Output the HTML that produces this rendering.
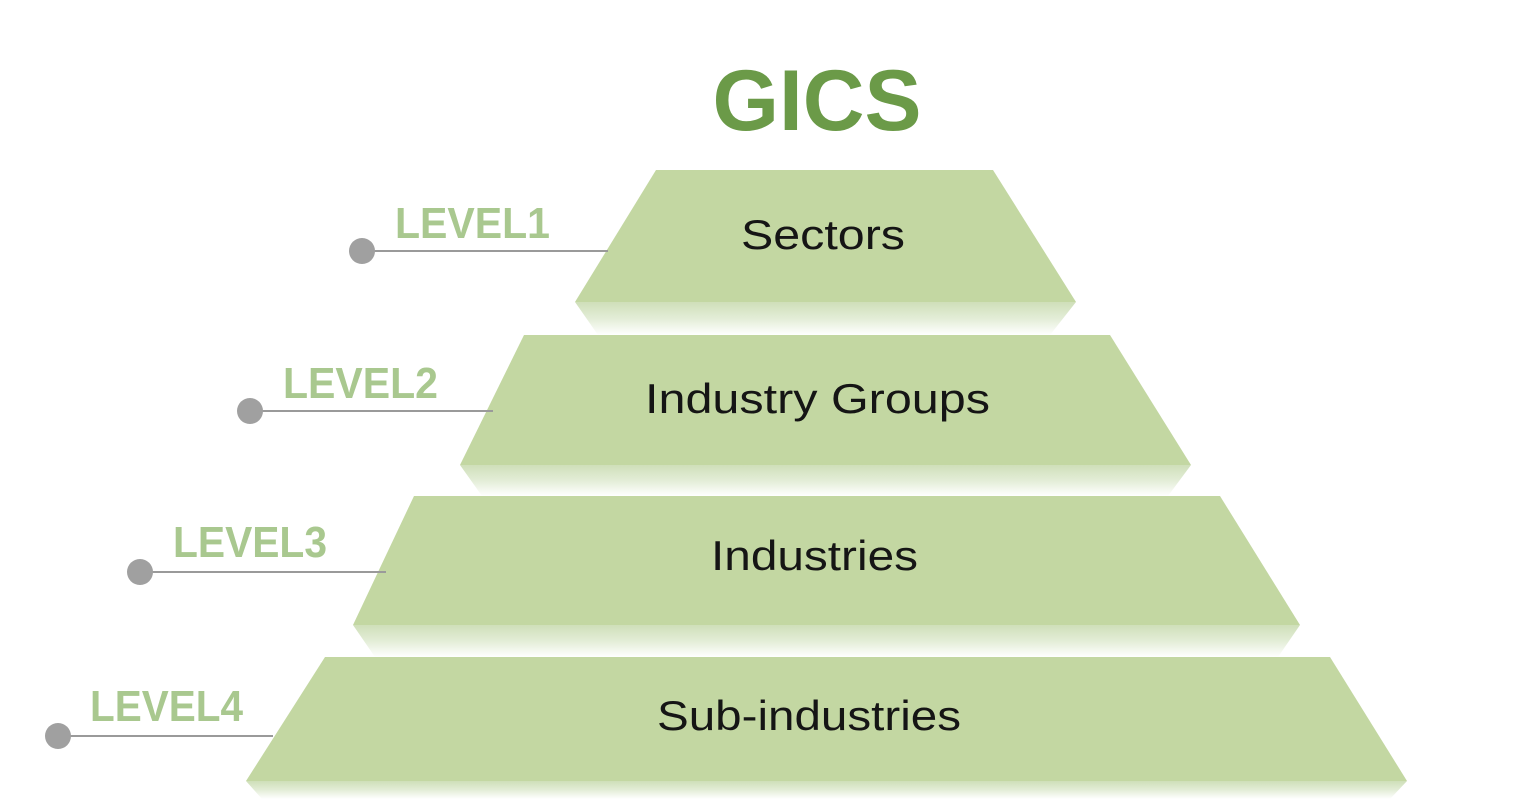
<!DOCTYPE html>
<html><head><meta charset="utf-8"><style>
html,body{margin:0;padding:0;background:#fff;width:1529px;height:799px;overflow:hidden}
svg{display:block}
</style></head><body>
<svg width="1529" height="799" viewBox="0 0 1529 799" xmlns="http://www.w3.org/2000/svg">
<defs>
<linearGradient id="r" x1="0" y1="0" x2="0" y2="1">
<stop offset="0" stop-color="#cfdfb9"/>
<stop offset="0.5" stop-color="#e3edd7"/>
<stop offset="1" stop-color="#ffffff"/>
</linearGradient>
</defs>
<text x="817" y="130" text-anchor="middle" font-family="Liberation Sans, sans-serif" font-weight="bold" font-size="86" fill="#6b9a48" textLength="209" lengthAdjust="spacingAndGlyphs">GICS</text>

<polygon points="575,302 1076,302 1050,335 598,335" fill="url(#r)"/>
<polygon points="460,465 1191,465 1168,496 482,496" fill="url(#r)"/>
<polygon points="353,625 1300,625 1278,657 375,657" fill="url(#r)"/>
<polygon points="246,781 1407,781 1390,799 262,799" fill="url(#r)"/>

<polygon points="656,170 993,170 1076,302 575,302" fill="#c3d7a2"/>
<polygon points="524,335 1110,335 1191,465 460,465" fill="#c3d7a2"/>
<polygon points="414,496 1220,496 1300,625 353,625" fill="#c3d7a2"/>
<polygon points="325,657 1330,657 1407,781 246,781" fill="#c3d7a2"/>

<g font-family="Liberation Sans, DejaVu Sans, sans-serif" font-size="42" fill="#151515">
<text x="741" y="249" textLength="164" lengthAdjust="spacingAndGlyphs">Sectors</text>
<text x="645" y="413" textLength="345" lengthAdjust="spacingAndGlyphs">Industry Groups</text>
<text x="711" y="570" textLength="207" lengthAdjust="spacingAndGlyphs">Industries</text>
<text x="657" y="730" textLength="304" lengthAdjust="spacingAndGlyphs">Sub-industries</text>
</g>

<g stroke="#9a9a9a" stroke-width="2">
<line x1="362" y1="251" x2="608" y2="251"/>
<line x1="250" y1="411" x2="493" y2="411"/>
<line x1="140" y1="572" x2="386" y2="572"/>
<line x1="58" y1="736" x2="273" y2="736"/>
</g>
<g fill="#a0a0a0">
<circle cx="362" cy="251" r="13"/>
<circle cx="250" cy="411" r="13"/>
<circle cx="140" cy="572" r="13"/>
<circle cx="58" cy="736" r="13"/>
</g>
<g font-family="Liberation Sans, sans-serif" font-weight="bold" font-size="44" fill="#a9c88f">
<text x="395" y="238" textLength="155" lengthAdjust="spacingAndGlyphs">LEVEL1</text>
<text x="283" y="398" textLength="155" lengthAdjust="spacingAndGlyphs">LEVEL2</text>
<text x="173" y="557" textLength="154" lengthAdjust="spacingAndGlyphs">LEVEL3</text>
<text x="90" y="721" textLength="153" lengthAdjust="spacingAndGlyphs">LEVEL4</text>
</g>
</svg>
</body></html>
